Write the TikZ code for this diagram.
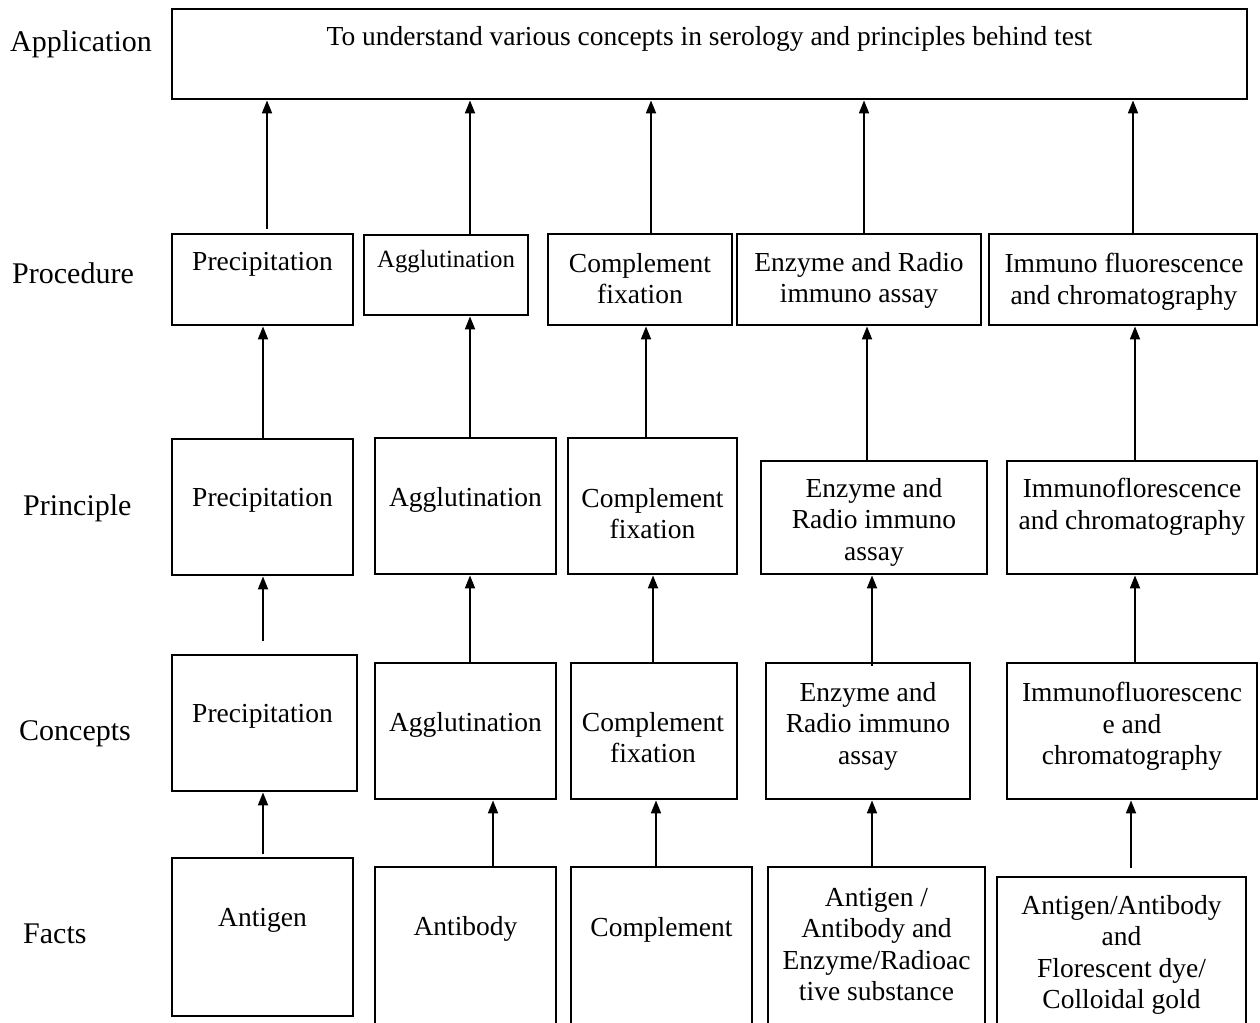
\documentclass[tikz,border=0pt]{standalone}
\usepackage{fontspec}
\setmainfont{Liberation Serif}
\usetikzlibrary{arrows.meta,calc}
\newcommand\mkbox[5]{\node[boxsty, minimum width={#4-#2}, minimum height={#5-#3}] (#1) at ({(#2+#4)/2},{(#3+#5)/2}) {};}
\begin{document}
\begin{tikzpicture}[x=1pt,y=-1pt,
  boxsty/.style={draw, line width=2.8pt, inner sep=0pt, rectangle},
  txt/.style={font=\fontsize{27.5}{31.5}\selectfont, align=center, inner sep=0pt, anchor=north},
  smalltxt/.style={font=\fontsize{24.8}{28}\selectfont, align=center, inner sep=0pt, anchor=north},
  lbl/.style={font=\fontsize{30}{34}\selectfont, inner sep=0pt, anchor=base west},
  arr/.style={line width=1.8pt, -{Triangle[length=13pt,width=10pt]}}]
\useasboundingbox (0,0) rectangle (1260,1022);
\clip (0,0) rectangle (1260,1022);

% row labels
\node[lbl] (lapp) at (10,52) {Application};
\node[lbl] (lproc) at (12,283) {Procedure};
\node[lbl] (lprin) at (23,515) {Principle};
\node[lbl] (lconc) at (19,740) {Concepts};
\node[lbl] (lfact) at (23,943) {Facts};

% boxes
\mkbox{app}{172}{9}{1247}{99}
\mkbox{p1}{172}{234}{353}{325}
\mkbox{r1}{172}{439}{353}{575}
\mkbox{c1}{172}{655}{357}{791}
\mkbox{f1}{172}{858}{353}{1016}
\mkbox{p2}{364}{235}{528}{315}
\mkbox{r2}{375}{438}{556}{574}
\mkbox{c2}{375}{663}{556}{799}
\mkbox{f2}{375}{867}{556}{1040}
\mkbox{p3}{548}{234}{732}{325}
\mkbox{r3}{568}{438}{737}{574}
\mkbox{c3}{571}{663}{737}{799}
\mkbox{f3}{571}{867}{752}{1040}
\mkbox{p4}{737}{234}{981}{325}
\mkbox{r4}{761}{461}{987}{574}
\mkbox{c4}{766}{663}{970}{799}
\mkbox{f4}{768}{867}{985}{1040}
\mkbox{p5}{989}{234}{1257}{325}
\mkbox{r5}{1007}{461}{1257}{574}
\mkbox{c5}{1007}{663}{1257}{799}
\mkbox{f5}{997}{877}{1246}{1040}

% texts
\node[txt] (tapp) at (709.5,26) {To understand various concepts in serology and principles behind test};
\node[txt] (tp1) at (262.5,252) {Precipitation};
\node[txt] (tr1) at (262.5,488) {Precipitation};
\node[txt] (tc1) at (262.5,704) {Precipitation};
\node[txt] (tf1) at (262.5,908) {Antigen};
\node[smalltxt] (tp2) at (446,250.5) {Agglutination};
\node[txt] (tr2) at (465.5,487) {Agglutination};
\node[txt] (tc2) at (465.5,712) {Agglutination};
\node[txt] (tf2) at (465.5,916) {Antibody};
\node[txt] (tp3) at (640,253) {Complement\\fixation};
\node[txt] (tr3) at (652.5,488) {Complement\\fixation};
\node[txt] (tc3) at (653,712) {Complement\\fixation};
\node[txt] (tf3) at (661.5,917) {Complement};
\node[txt] (tp4) at (859,252) {Enzyme and Radio\\immuno assay};
\node[txt] (tr4) at (874,478) {Enzyme and\\Radio immuno\\assay};
\node[txt] (tc4) at (868,682) {Enzyme and\\Radio immuno\\assay};
\node[txt] (tf4) at (876.5,888) {Antigen /\\Antibody and\\Enzyme/Radioac\\tive substance};
\node[txt] (tp5) at (1124,253) {Immuno fluorescence\\and chromatography};
\node[txt] (tr5) at (1132,478) {Immunoflorescence\\and chromatography};
\node[txt] (tc5) at (1132,682) {Immunofluorescenc\\e and\\chromatography};
\node[txt] (tf5) at (1121.5,895) {Antigen/Antibody\\and\\Florescent dye/\\Colloidal gold};

% arrows
\draw[arr, shorten <=3pt] (f1.north -| 263,0) -- (c1.south -| 263,0);
\draw[arr, shorten <=13pt] (c1.north -| 263,0) -- (r1.south -| 263,0);
\draw[arr] (r1.north -| 263,0) -- (p1.south -| 263,0);
\draw[arr, shorten <=4pt] (p1.north -| 267,0) -- (app.south -| 267,0);
\draw[arr] (f2.north -| 493,0) -- (c2.south -| 493,0);
\draw[arr] (c2.north -| 470,0) -- (r2.south -| 470,0);
\draw[arr] (r2.north -| 470,0) -- (p2.south -| 470,0);
\draw[arr] (p2.north -| 470,0) -- (app.south -| 470,0);
\draw[arr] (f3.north -| 656,0) -- (c3.south -| 656,0);
\draw[arr] (c3.north -| 653,0) -- (r3.south -| 653,0);
\draw[arr] (r3.north -| 646,0) -- (p3.south -| 646,0);
\draw[arr] (p3.north -| 651,0) -- (app.south -| 651,0);
\draw[arr] (f4.north -| 872,0) -- (c4.south -| 872,0);
\draw[arr, shorten <=-4pt] (c4.north -| 872,0) -- (r4.south -| 872,0);
\draw[arr] (r4.north -| 867,0) -- (p4.south -| 867,0);
\draw[arr] (p4.north -| 864,0) -- (app.south -| 864,0);
\draw[arr, shorten <=8pt] (f5.north -| 1131,0) -- (c5.south -| 1131,0);
\draw[arr] (c5.north -| 1135,0) -- (r5.south -| 1135,0);
\draw[arr] (r5.north -| 1135,0) -- (p5.south -| 1135,0);
\draw[arr] (p5.north -| 1133,0) -- (app.south -| 1133,0);
\end{tikzpicture}
\end{document}
